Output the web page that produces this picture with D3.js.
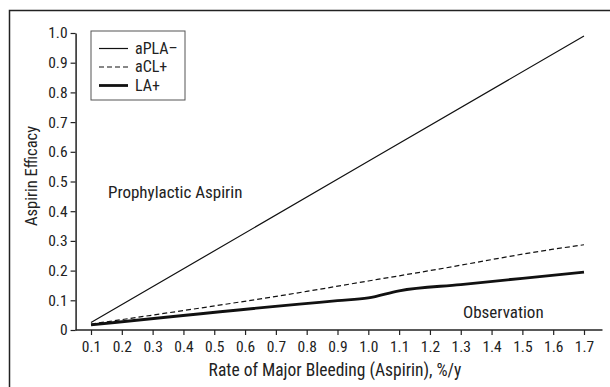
<!DOCTYPE html>
<html>
<head>
<meta charset="utf-8">
<script src="https://cdn.jsdelivr.net/npm/d3@7"></script>
<style>
  body { margin: 0; background: #fff; }
  svg text { font-family: "Liberation Sans Narrow", "Arial Narrow", "Roboto Condensed", sans-serif; fill: #222; }
</style>
</head>
<body>
<svg id="chart"></svg>
<script>
// bleeding rate (%/y) vs aspirin efficacy threshold
const aplaNeg = [[0.1, 0.025], [1.0, 0.568], [1.7, 0.99]];
const aclPos  = [[0.1, 0.02], [0.8, 0.13], [1.0, 0.165], [1.2, 0.2], [1.6, 0.272], [1.7, 0.287]];
const laPos   = [[0.1, 0.017], [0.9, 0.099], [1.0, 0.108], [1.1, 0.132], [1.3, 0.153], [1.7, 0.195]];
const xTicks = [0.1, 0.2, 0.3, 0.4, 0.5, 0.6, 0.7, 0.8, 0.9, 1.0, 1.1, 1.2, 1.3, 1.4, 1.5, 1.6, 1.7];
const yTicks = [0, 0.1, 0.2, 0.3, 0.4, 0.5, 0.6, 0.7, 0.8, 0.9, 1.0];
const legendLabels = ["aPLA\u2013", "aCL+", "LA+"];

let svg = d3.select("#chart").attr("width", 610).attr("height", 387);

// outer frame (runs off the right and bottom of the picture)
svg.append("rect")
    .attr("x", 9.5).attr("y", 10.5)
    .attr("width", 640).attr("height", 420)
    .attr("fill", "none").attr("stroke", "#222").attr("stroke-width", 1.5);

let x = d3.scaleLinear().domain([0.1, 1.7]).range([91, 584]);
let y = d3.scaleLinear().domain([0, 1]).range([330, 33]);

let fmt = d => d === 0 ? "0" : d3.format(".1f")(d);

// x axis
let gx = svg.append("g")
    .attr("transform", "translate(0," + y(0) + ")")
    .call(d3.axisBottom(x).tickValues(xTicks).tickFormat(fmt).tickSize(5).tickSizeOuter(0).tickPadding(6));
gx.select(".domain").remove();
gx.append("line")
    .attr("x1", x(0.05)).attr("x2", x(1.76))
    .attr("stroke", "#222").attr("stroke-width", 1.5);
gx.selectAll(".tick line").attr("stroke", "#222").attr("stroke-width", 1.2);
gx.selectAll(".tick text").attr("font-size", 15.5).attr("fill", "#222");

// y axis
let gy = svg.append("g")
    .attr("transform", "translate(" + x(0.05) + ",0)")
    .call(d3.axisLeft(y).tickValues(yTicks).tickFormat(fmt).tickSize(5).tickSizeOuter(0).tickPadding(3));
gy.select(".domain").attr("stroke", "#222").attr("stroke-width", 1.5);
gy.selectAll(".tick line").attr("stroke", "#222").attr("stroke-width", 1.2);
gy.selectAll(".tick text").attr("font-size", 15.5).attr("fill", "#222");

// axis titles
svg.append("text")
    .attr("x", 335).attr("y", 376)
    .attr("text-anchor", "middle").attr("font-size", 17.5)
    .text("Rate of Major Bleeding (Aspirin), %/y");
svg.append("text")
    .attr("transform", "translate(37,176) rotate(-90)")
    .attr("text-anchor", "middle").attr("font-size", 16.5)
    .text("Aspirin Efficacy");

// region labels
svg.append("text").attr("x", 108).attr("y", 198).attr("font-size", 17).text("Prophylactic Aspirin");
svg.append("text").attr("x", 463).attr("y", 318).attr("font-size", 17).text("Observation");

let line = d3.line()
    .curve(d3.curveMonotoneX)
    .x(d => x(d[0]))
    .y(d => y(d[1]));

let styles = [
    {data: aplaNeg, width: 1.2, dash: null},
    {data: aclPos, width: 1.2, dash: "5,3"},
    {data: laPos, width: 2.8, dash: null}
];

for (let s of styles) {
    svg.append("path")
        .datum(s.data)
        .attr("fill", "none")
        .attr("stroke", "#111")
        .attr("stroke-width", s.width)
        .attr("stroke-dasharray", s.dash)
        .attr("d", line);
}

// legend
let lg = svg.append("g").attr("transform", "translate(91,31)");
lg.append("rect")
    .attr("x", 0).attr("y", 0).attr("width", 94).attr("height", 69)
    .attr("fill", "#fff").attr("stroke", "#555").attr("stroke-width", 1);
legendLabels.forEach((lab, i) => {
    let yy = 17.5 + i * 18.5;
    lg.append("line")
        .attr("x1", 8).attr("x2", 37).attr("y1", yy).attr("y2", yy)
        .attr("stroke", "#111").attr("stroke-width", styles[i].width)
        .attr("stroke-dasharray", styles[i].dash);
    lg.append("text")
        .attr("x", 44).attr("y", yy + 5)
        .attr("font-size", 16)
        .text(lab);
});
</script>
</body>
</html>
